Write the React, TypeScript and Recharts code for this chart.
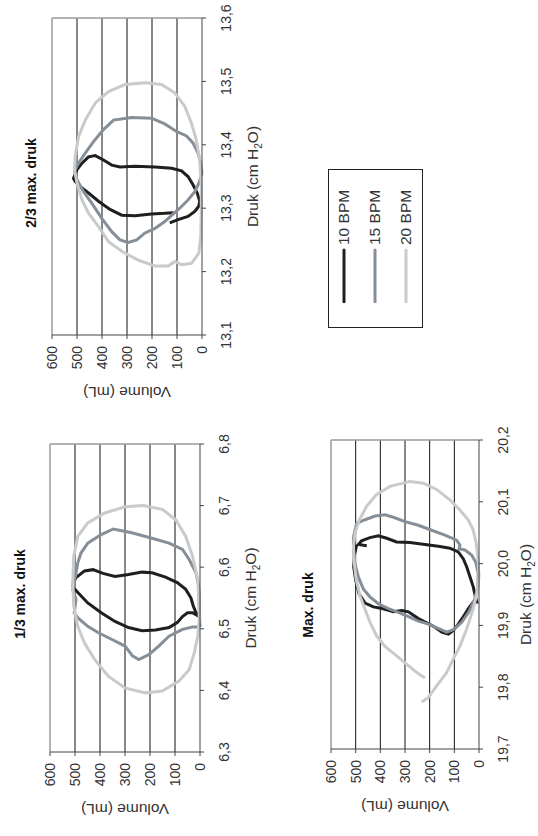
import { CartesianGrid, Line, LineChart, ReferenceLine, XAxis, YAxis } from "recharts"

type Pt = [number, number] // [druk, volume]

const seriesNames = ["10 BPM", "15 BPM", "20 BPM"]
const seriesColors = ["#1f1f1f", "#868f98", "#c8cacc"]

const volumeTicks = [0, 100, 200, 300, 400, 500, 600]
const gridVolumes = [100, 200, 300, 400, 500]

// 1/3 max. druk
const lowTicks = [6.3, 6.4, 6.5, 6.6, 6.7, 6.8]
const low10: Pt[] = [
  [6.572, 509], [6.583, 496], [6.594, 462], [6.596, 428], [6.59, 388], [6.585, 340], [6.588, 286],
  [6.592, 232], [6.591, 192], [6.584, 138], [6.575, 91], [6.564, 57], [6.55, 36], [6.537, 27],
  [6.529, 19], [6.522, 9], [6.52, 4], [6.526, 30], [6.526, 50], [6.52, 70], [6.51, 91], [6.502, 124],
  [6.498, 178], [6.497, 232], [6.502, 286], [6.512, 340], [6.526, 395], [6.542, 449], [6.556, 482],
  [6.566, 505], [6.572, 509],
]
const low15: Pt[] = [
  [6.503, 0], [6.503, 30], [6.499, 70], [6.488, 124], [6.472, 165], [6.458, 205], [6.45, 245],
  [6.456, 270], [6.472, 300], [6.483, 354], [6.494, 408], [6.504, 449], [6.518, 489], [6.526, 503],
  [6.548, 496], [6.564, 509], [6.575, 503], [6.591, 496], [6.607, 489], [6.623, 476], [6.639, 449],
  [6.653, 395], [6.662, 347], [6.656, 273], [6.647, 192], [6.639, 124], [6.629, 70], [6.612, 43],
  [6.591, 16], [6.569, 5], [6.548, 3], [6.52, 2], [6.503, 0],
]
const low20: Pt[] = [
  [6.548, 5], [6.58, 9], [6.618, 30], [6.65, 57], [6.677, 97], [6.694, 151], [6.7, 226], [6.698, 300],
  [6.688, 381], [6.672, 449], [6.65, 489], [6.618, 505], [6.575, 509], [6.537, 505], [6.504, 489],
  [6.477, 462], [6.45, 421], [6.423, 367], [6.404, 300], [6.396, 219], [6.399, 151], [6.415, 84],
  [6.434, 43], [6.461, 23], [6.488, 9], [6.515, 3], [6.548, 5],
]

// 2/3 max. druk
const midTicks = [13.1, 13.2, 13.3, 13.4, 13.5, 13.6]
const mid10: Pt[] = [
  [13.277, 129], [13.282, 96], [13.287, 56], [13.295, 29], [13.303, 13], [13.311, 9], [13.324, 19],
  [13.337, 36], [13.35, 56], [13.359, 82], [13.363, 122], [13.365, 188], [13.366, 268], [13.365, 328],
  [13.368, 361], [13.376, 394], [13.383, 427], [13.381, 454], [13.371, 480], [13.361, 500],
  [13.347, 514], [13.342, 507], [13.334, 487], [13.324, 454], [13.311, 414], [13.298, 368],
  [13.289, 321], [13.288, 268], [13.291, 202], [13.292, 149], [13.293, 115],
]
const mid15: Pt[] = [
  [13.355, 0], [13.339, 13], [13.326, 29], [13.313, 56], [13.3, 89], [13.291, 115], [13.279, 149],
  [13.268, 188], [13.261, 228], [13.25, 261], [13.246, 295], [13.25, 328], [13.263, 361],
  [13.284, 401], [13.308, 441], [13.326, 474], [13.345, 500], [13.358, 510], [13.371, 494],
  [13.387, 467], [13.405, 434], [13.424, 394], [13.439, 354], [13.443, 281], [13.442, 202],
  [13.433, 149], [13.421, 102], [13.414, 62], [13.403, 36], [13.387, 16], [13.371, 5], [13.355, 0],
]
const mid20: Pt[] = [
  [13.297, 3], [13.255, 5], [13.229, 13], [13.213, 42], [13.211, 82], [13.216, 109], [13.209, 135],
  [13.209, 188], [13.218, 255], [13.232, 321], [13.247, 374], [13.271, 414], [13.292, 454],
  [13.313, 480], [13.339, 500], [13.361, 510], [13.382, 507], [13.413, 494], [13.439, 467],
  [13.466, 427], [13.484, 374], [13.495, 308], [13.498, 228], [13.495, 162], [13.482, 109],
  [13.461, 69], [13.434, 42], [13.408, 23], [13.376, 9], [13.334, 3], [13.297, 3],
]

// Max. druk
const maxTicks = [19.7, 19.8, 19.9, 20.0, 20.1, 20.2]
const max10: Pt[] = [
  [20.029, 455], [20.031, 489], [20.037, 476], [20.042, 442], [20.045, 408], [20.041, 374],
  [20.035, 334], [20.034, 280], [20.031, 219], [20.028, 165], [20.025, 118], [20.019, 84],
  [20.008, 64], [19.995, 50], [19.978, 36], [19.962, 23], [19.949, 16], [19.938, 9], [19.938, 23],
  [19.927, 43], [19.914, 64], [19.902, 84], [19.892, 104], [19.886, 124], [19.889, 151],
  [19.897, 178], [19.904, 212], [19.911, 246], [19.922, 286], [19.924, 313], [19.922, 347],
  [19.927, 388], [19.93, 428], [19.936, 462], [19.951, 486], [19.973, 500], [19.995, 508],
  [20.014, 505], [20.03, 496],
]
const max15: Pt[] = [
  [20.043, 509], [20.065, 496], [20.071, 462], [20.077, 421], [20.079, 381], [20.075, 347],
  [20.068, 300], [20.062, 246], [20.054, 192], [20.046, 138], [20.038, 91], [20.03, 77], [20.024, 81],
  [20.022, 57], [20.014, 30], [20.003, 14], [19.984, 3], [19.962, 5], [19.941, 19], [19.922, 41],
  [19.905, 70], [19.893, 104], [19.889, 131], [19.895, 165], [19.902, 205], [19.907, 246],
  [19.914, 286], [19.921, 327], [19.927, 367], [19.935, 408], [19.946, 442], [19.959, 469],
  [19.978, 489], [20.0, 503], [20.022, 509], [20.043, 509],
]
const max20: Pt[] = [
  [19.815, 219], [19.824, 253], [19.837, 293], [19.853, 341], [19.866, 381], [19.883, 415],
  [19.904, 441], [19.926, 462], [19.947, 482], [19.974, 498], [20.001, 506], [20.028, 509],
  [20.05, 502], [20.071, 485], [20.093, 455], [20.112, 415], [20.125, 361], [20.133, 280],
  [20.13, 226], [20.12, 172], [20.103, 118], [20.087, 78], [20.071, 44], [20.055, 24], [20.033, 11],
  [20.006, 4], [19.98, 0], [19.953, 8], [19.926, 24], [19.893, 51], [19.866, 78], [19.845, 105],
  [19.823, 132], [19.802, 172], [19.783, 206], [19.776, 233],
]

const FONT = "'Liberation Sans', Arial, sans-serif"
const TEXT = "#333"

const comma = (v: number) => v.toFixed(1).replace(".", ",")

const drukLabel = (dy: number) => ({ viewBox }: any) => {
  const { x, y, width } = viewBox
  return (
    <text x={x + width / 2} y={y + dy} textAnchor="middle" fontSize={15.5} fill={TEXT} fontFamily={FONT}>
      Druk (cm H<tspan fontSize={10} dy={4}>2</tspan>
      <tspan dy={-4}>O)</tspan>
    </text>
  )
}

function VolumeLabel({ viewBox }: any) {
  const { x, y, width, height } = viewBox
  const cx = x + width - 57
  const cy = y + height / 2
  return (
    <text
      x={cx}
      y={cy}
      transform={`rotate(-90 ${cx} ${cy})`}
      textAnchor="middle"
      dominantBaseline="central"
      fontSize={15.5}
      fill={TEXT}
      fontFamily={FONT}
    >
      Volume (mL)
    </text>
  )
}

type ChartProps = {
  title: string
  ticks: number[]
  loops: Pt[][]
  left: number
  top: number
  width: number
  height: number
  plot: { x0: number; y0: number; x1: number; y1: number }
  titleX: number
  titleY: number
  labelDy: number
}

function PvChart({ title, ticks, loops, left, top, width, height, plot, titleX, titleY, labelDy }: ChartProps) {
  const domain: [number, number] = [ticks[0], ticks[ticks.length - 1]]
  return (
    <div style={{ position: "absolute", left, top, width, height }}>
      <div
        style={{
          position: "absolute",
          left: titleX - 100,
          top: titleY - 9,
          width: 200,
          textAlign: "center",
          fontWeight: "bold",
          fontSize: 14,
          lineHeight: "18px",
          color: "#111",
        }}
      >
        {title}
      </div>
      <LineChart
        width={width}
        height={height}
        margin={{ top: plot.y0, right: width - plot.x1, left: 0, bottom: 0 }}
      >
        <CartesianGrid vertical={false} horizontalValues={gridVolumes} stroke="#111" strokeWidth={1} />
        <XAxis
          type="number"
          dataKey="p"
          domain={domain}
          ticks={ticks}
          allowDataOverflow
          tickFormatter={comma}
          height={height - plot.y1}
          tickSize={4}
          tickMargin={15}
          stroke="#444"
          tick={{ fill: TEXT, fontSize: 14, fontFamily: FONT }}
          label={{ content: drukLabel(labelDy) }}
        />
        <YAxis
          type="number"
          dataKey="v"
          domain={[0, 600]}
          ticks={volumeTicks}
          width={plot.x0}
          tickSize={4}
          tickMargin={7}
          stroke="#444"
          tick={{ fill: TEXT, fontSize: 14, fontFamily: FONT }}
          label={{ content: VolumeLabel }}
        />
        <ReferenceLine y={600} stroke="#9a9a9a" strokeWidth={1.5} />
        <ReferenceLine x={domain[1]} stroke="#9a9a9a" strokeWidth={1.5} />
        {loops.map((loop, i) => (
          <Line
            key={seriesNames[i]}
            name={seriesNames[i]}
            data={loop.map(([p, v]) => ({ p, v }))}
            dataKey="v"
            type="linear"
            stroke={seriesColors[i]}
            strokeWidth={3}
            dot={false}
            isAnimationActive={false}
          />
        ))}
      </LineChart>
    </div>
  )
}

function LegendBox() {
  return (
    <div
      style={{
        position: "absolute",
        left: 508,
        top: 328,
        width: 157,
        height: 93,
        border: "1.5px solid #222",
      }}
    >
      {seriesNames.map((name, i) => (
        <div
          key={name}
          style={{ position: "absolute", left: 24, top: 6 + i * 31, height: 18, display: "flex", alignItems: "center" }}
        >
          <svg width={56} height={6}>
            <line x1={1} y1={3} x2={53} y2={3} stroke={seriesColors[i]} strokeWidth={3} strokeLinecap="round" />
          </svg>
          <span style={{ fontSize: 15.5, color: TEXT, marginLeft: 2 }}>{name}</span>
        </div>
      ))}
    </div>
  )
}

export default function App() {
  return (
    <div style={{ position: "fixed", left: 0, top: 0, width: 538, height: 836, overflow: "hidden", background: "#fff" }}>
      <div
        style={{
          position: "absolute",
          left: 0,
          top: 0,
          width: 836,
          height: 538,
          transformOrigin: "0 0",
          transform: "translate(0px, 836px) rotate(-90deg)",
          fontFamily: FONT,
        }}
      >
        <PvChart
          title="1/3 max. druk"
          ticks={lowTicks}
          loops={[low10, low15, low20]}
          left={0}
          top={0}
          width={420}
          height={270}
          plot={{ x0: 84, y0: 50, x1: 392, y1: 200 }}
          titleX={242}
          titleY={20}
          labelDy={56}
        />
        <PvChart
          title="2/3 max. druk"
          ticks={midTicks}
          loops={[mid10, mid15, mid20]}
          left={420}
          top={0}
          width={416}
          height={270}
          plot={{ x0: 81, y0: 52, x1: 398, y1: 202 }}
          titleX={233}
          titleY={31}
          labelDy={56}
        />
        <PvChart
          title="Max. druk"
          ticks={maxTicks}
          loops={[max10, max15, max20]}
          left={0}
          top={268}
          width={420}
          height={270}
          plot={{ x0: 87, y0: 63, x1: 396, y1: 211 }}
          titleX={231}
          titleY={40}
          labelDy={52}
        />
        <LegendBox />
      </div>
    </div>
  )
}
